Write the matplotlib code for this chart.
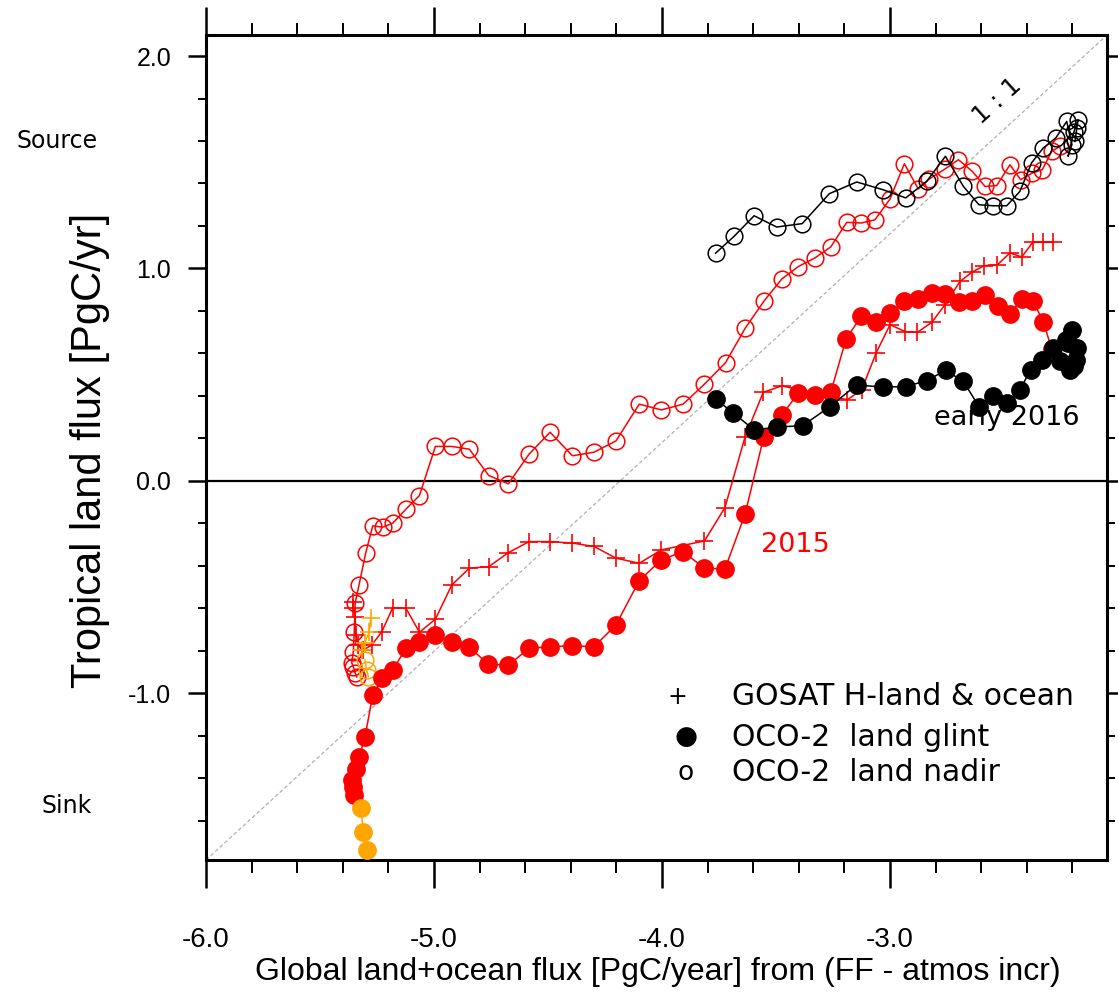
import numpy as np
import matplotlib
matplotlib.use("Agg")
from matplotlib import pyplot as plt
from matplotlib.ticker import MultipleLocator, FormatStrFormatter

# OCO-2 land nadir, 2015 (red open circles)
nadir15_x = [-5.339, -5.346, -5.354, -5.361, -5.354, -5.350, -5.346, -5.329, -5.300, -5.269,
             -5.225, -5.181, -5.123, -5.064, -4.994, -4.922, -4.845, -4.760, -4.674, -4.583,
             -4.491, -4.393, -4.298, -4.202, -4.100, -4.003, -3.908, -3.814, -3.721, -3.635,
             -3.553, -3.475, -3.402, -3.330, -3.260, -3.190, -3.126, -3.066, -3.000, -2.937,
             -2.876, -2.828, -2.759, -2.700, -2.639, -2.583, -2.532, -2.474, -2.427, -2.376,
             -2.332, -2.291, -2.254]
nadir15_y = [-0.923, -0.904, -0.875, -0.857, -0.804, -0.710, -0.575, -0.490, -0.341, -0.212,
             -0.218, -0.199, -0.133, -0.069, 0.162, 0.162, 0.149, 0.025, -0.014, 0.126,
             0.229, 0.118, 0.135, 0.188, 0.361, 0.334, 0.361, 0.455, 0.557, 0.719,
             0.846, 0.950, 1.009, 1.049, 1.101, 1.217, 1.214, 1.229, 1.327, 1.493,
             1.374, 1.421, 1.468, 1.512, 1.457, 1.386, 1.390, 1.488, 1.418, 1.449,
             1.465, 1.551, 1.575]

# OCO-2 land nadir, early 2016 (black open circles)
nadir16_x = [-3.765, -3.684, -3.596, -3.497, -3.385, -3.266, -3.146, -3.032, -2.931, -2.839,
             -2.757, -2.678, -2.610, -2.547, -2.488, -2.430, -2.379, -2.328, -2.273, -2.225,
             -2.202, -2.219, -2.193, -2.175, -2.180, -2.189]
nadir16_y = [1.072, 1.151, 1.248, 1.195, 1.211, 1.352, 1.407, 1.371, 1.332, 1.410,
             1.528, 1.386, 1.300, 1.295, 1.295, 1.363, 1.497, 1.567, 1.614, 1.692,
             1.583, 1.528, 1.644, 1.700, 1.663, 1.598]

# GOSAT H-land & ocean, 2015 (red plus)
gosat_x = [-5.354, -5.354, -5.346, -5.343, -5.332, -5.310, -5.273, -5.229, -5.181, -5.123,
           -5.064, -4.994, -4.922, -4.845, -4.760, -4.674, -4.583, -4.491, -4.393, -4.298,
           -4.202, -4.100, -4.003, -3.814, -3.724, -3.636, -3.556, -3.475, -3.187, -3.124,
           -3.061, -3.000, -2.934, -2.880, -2.817, -2.759, -2.693, -2.642, -2.588, -2.529,
           -2.474, -2.422, -2.374, -2.328, -2.284]
gosat_y = [-0.569, -0.600, -0.639, -0.725, -0.773, -0.796, -0.773, -0.710, -0.597, -0.600,
           -0.713, -0.651, -0.490, -0.411, -0.404, -0.338, -0.286, -0.286, -0.293, -0.309,
           -0.364, -0.388, -0.325, -0.283, -0.126, 0.206, 0.417, 0.447, 0.382, 0.429,
           0.602, 0.735, 0.703, 0.699, 0.746, 0.829, 0.939, 0.981, 1.013, 1.017,
           1.073, 1.054, 1.123, 1.123, 1.123]

# OCO-2 land glint, 2015 (red filled)
glint15_x = [-5.350, -5.354, -5.361, -5.342, -5.328, -5.303, -5.269, -5.227, -5.181, -5.123,
             -5.064, -4.996, -4.922, -4.845, -4.763, -4.674, -4.583, -4.491, -4.393, -4.298,
             -4.202, -4.100, -4.003, -3.908, -3.814, -3.724, -3.636, -3.554, -3.475, -3.402,
             -3.329, -3.260, -3.193, -3.127, -3.061, -3.000, -2.937, -2.879, -2.817, -2.759,
             -2.697, -2.642, -2.583, -2.525, -2.474, -2.422, -2.374, -2.328, -2.291]
glint15_y = [-1.479, -1.440, -1.408, -1.358, -1.299, -1.207, -1.008, -0.929, -0.890, -0.788,
             -0.760, -0.725, -0.760, -0.783, -0.863, -0.868, -0.788, -0.781, -0.776, -0.781,
             -0.678, -0.470, -0.372, -0.333, -0.411, -0.415, -0.158, 0.206, 0.309, 0.413,
             0.405, 0.416, 0.667, 0.774, 0.750, 0.790, 0.845, 0.856, 0.884, 0.881,
             0.840, 0.845, 0.876, 0.824, 0.787, 0.856, 0.849, 0.750, 0.622]

# OCO-2 land glint, early 2016 (black filled)
glint16_x = [-3.765, -3.687, -3.596, -3.497, -3.383, -3.263, -3.146, -3.032, -2.930, -2.839,
             -2.756, -2.678, -2.610, -2.547, -2.486, -2.430, -2.383, -2.332, -2.286, -2.254,
             -2.211, -2.184, -2.180, -2.219, -2.202, -2.228, -2.193]
glint16_y = [0.385, 0.319, 0.240, 0.253, 0.260, 0.350, 0.452, 0.441, 0.444, 0.472,
             0.520, 0.468, 0.350, 0.400, 0.366, 0.429, 0.523, 0.570, 0.625, 0.562,
             0.523, 0.570, 0.626, 0.650, 0.711, 0.664, 0.542]

# late 2014 (orange)
glint14_x = [-5.293, -5.310, -5.321, -5.350]
glint14_y = [-1.738, -1.652, -1.542, -1.479]
gosat14_x = [-5.278, -5.284, -5.303, -5.317]
gosat14_y = [-0.647, -0.710, -0.762, -0.796]
nadir14_x = [-5.288, -5.296, -5.303]
nadir14_y = [-0.922, -0.890, -0.843]

xlim = (-6.0, -2.048)
ylim = (-1.785, 2.099)

orange = '#FFA500'
tickfont = ['Liberation Sans', 'DejaVu Sans']

fig = plt.figure(figsize=(11.18, 10.0), dpi=100)
ax = fig.add_axes([0.1843, 0.14, 0.8059, 0.825])

# 1:1 reference diagonal and zero line
ax.plot([0, 1], [0, 1], transform=ax.transAxes, color='#b0b0b0', lw=0.9,
        ls=(0, (3, 2)), zorder=1)
ax.axhline(0.0, color='black', lw=1.6, zorder=1)

ms_o = 12
ms_f = 12.5
ax.plot(nadir15_x, nadir15_y, '-', color='red', lw=1.1, marker='o', ms=ms_o,
        mfc='none', mec='red', mew=1.1, zorder=3)
ax.plot(nadir16_x, nadir16_y, '-', color='black', lw=1.1, marker='o', ms=ms_o,
        mfc='none', mec='black', mew=1.1, zorder=3)
ax.plot(gosat_x, gosat_y, '-', color='red', lw=1.1, marker='+', ms=13, mew=1.2, zorder=4)
ax.plot(glint15_x, glint15_y, '-', color='red', lw=1.1, marker='o', ms=ms_f,
        mfc='red', mec='red', zorder=5)
ax.plot(glint16_x, glint16_y, '-', color='black', lw=1.1, marker='o', ms=ms_f,
        mfc='black', mec='black', zorder=6)
ax.plot(glint14_x[:3], glint14_y[:3], '-', color=orange, lw=1.1, marker='o', ms=ms_f,
        mfc=orange, mec=orange, zorder=5)
ax.plot(glint14_x[2:], glint14_y[2:], '-', color=orange, lw=1.1, zorder=4)
ax.plot(gosat14_x, gosat14_y, '-', color=orange, lw=1.1, marker='+', ms=13, mew=1.2, zorder=4)
ax.plot(nadir14_x, nadir14_y, '-', color=orange, lw=1.1, marker='o', ms=ms_o,
        mfc='none', mec=orange, mew=1.1, zorder=4)

ax.set_xlim(*xlim)
ax.set_ylim(*ylim)

ax.xaxis.set_major_locator(MultipleLocator(1.0))
ax.xaxis.set_minor_locator(MultipleLocator(0.2))
ax.yaxis.set_major_locator(MultipleLocator(1.0))
ax.yaxis.set_minor_locator(MultipleLocator(0.2))
ax.xaxis.set_major_formatter(FormatStrFormatter('%.1f'))
ax.yaxis.set_major_formatter(FormatStrFormatter('%.1f'))

ax.tick_params(axis='x', which='major', direction='out', length=20, width=1.8,
               top=True, bottom=True, pad=28)
ax.tick_params(axis='x', which='minor', direction='out', length=9, width=1.4,
               top=True, bottom=True)
ax.tick_params(axis='y', which='major', direction='out', length=13, width=1.8,
               left=True, right=True, pad=12)
ax.tick_params(axis='y', which='minor', direction='out', length=6, width=1.4,
               left=True, right=True)
for lab in ax.get_xticklabels():
    lab.set_family(tickfont)
    lab.set_fontsize(20)
for lab in ax.get_yticklabels():
    lab.set_family(tickfont)
    lab.set_fontsize(18)

for sp in ax.spines.values():
    sp.set_linewidth(2.2)

fig.text(0.5886, 0.028, 'Global land+ocean flux [PgC/year] from (FF - atmos incr)',
         ha='center', va='center', fontsize=23, family=tickfont)
fig.text(0.0805, 0.55, 'Tropical land flux [PgC/yr]', rotation=90,
         ha='center', va='center', fontsize=30, family=tickfont)
fig.text(0.051, 0.859, 'Source', ha='center', va='center', fontsize=17)
fig.text(0.060, 0.194, 'Sink', ha='center', va='center', fontsize=17)

ax.text(-2.532, 1.787, '1 : 1', rotation=42, ha='center', va='center', fontsize=18)
ax.text(-2.488, 0.295, 'early 2016', ha='center', va='center', fontsize=19.5)
ax.text(-3.417, -0.301, '2015', color='red', ha='center', va='center', fontsize=19.5)

# legend drawn as text
ax.text(-3.934, -1.017, '+', ha='center', va='center', fontsize=17)
ax.text(-3.895, -1.206, '\u25CF', ha='center', va='center', fontsize=19)
ax.text(-3.895, -1.375, 'o', ha='center', va='center', fontsize=19)
ax.text(-3.693, -1.017, 'GOSAT H-land & ocean', ha='left', va='center', fontsize=21.5)
ax.text(-3.693, -1.206, 'OCO-2  land glint', ha='left', va='center', fontsize=21.5)
ax.text(-3.693, -1.375, 'OCO-2  land nadir', ha='left', va='center', fontsize=21.5)

fig.savefig('out.png', dpi=100)
